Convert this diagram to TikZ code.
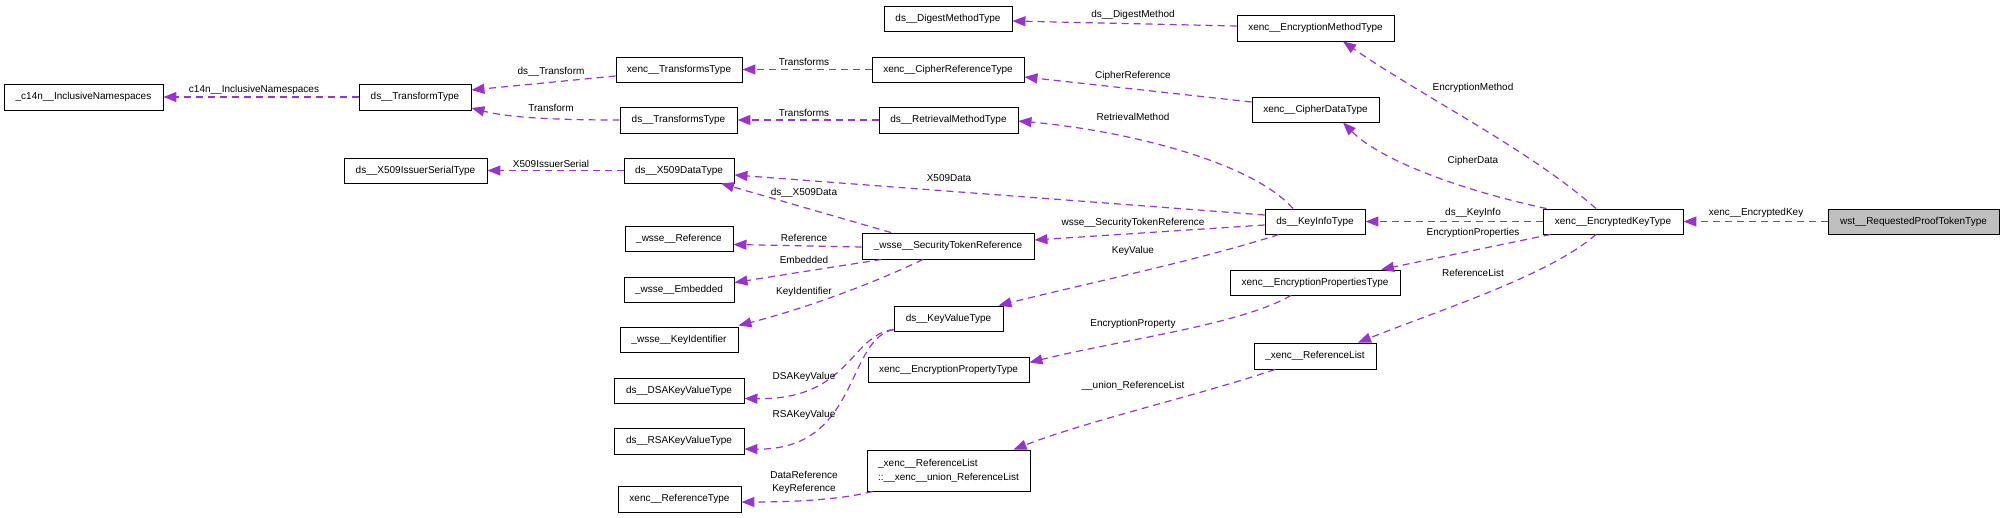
\documentclass[tikz,border=0pt]{standalone}
\usepackage{fontspec}
\setmainfont{Liberation Sans}
\usetikzlibrary{arrows.meta,calc}
\definecolor{deppurple}{HTML}{9A32CD}
\begin{document}
\begin{tikzpicture}[x=1pt,y=-1pt,
  cls/.style={draw=black, line width=0.9pt, fill=white, inner sep=0pt, minimum height=25pt, font=\fontsize{10}{12}\selectfont},
  lbl/.style={inner sep=0pt, font=\fontsize{10}{12}\selectfont},
  dep/.style={draw=deppurple, line width=1.2pt, dash pattern=on 7pt off 5pt, -{Triangle[length=13pt,width=10pt,fill=deppurple]}}
]
\useasboundingbox (0,0) rectangle (2004,517);
% nodes
\node[cls, minimum width=159pt, minimum height=26pt] (c14n) at (83.5,97) {\_c14n\_\_InclusiveNamespaces};
\node[cls, minimum width=112pt, minimum height=26pt] (tt) at (415,97) {ds\_\_TransformType};
\node[cls, minimum width=126pt] (xtst) at (679,69.5) {xenc\_\_TransformsType};
\node[cls, minimum width=117pt, minimum height=26pt] (dtst) at (678.5,120) {ds\_\_TransformsType};
\node[cls, minimum width=143pt] (x509is) at (415.5,170.5) {ds\_\_X509IssuerSerialType};
\node[cls, minimum width=110pt] (x509d) at (679,170.5) {ds\_\_X509DataType};
\node[cls, minimum width=108pt] (wref) at (679,238.5) {\_wsse\_\_Reference};
\node[cls, minimum width=110pt] (wemb) at (679,289.5) {\_wsse\_\_Embedded};
\node[cls, minimum width=118pt] (wki) at (679,339.5) {\_wsse\_\_KeyIdentifier};
\node[cls, minimum width=130pt] (dsa) at (679,390.5) {ds\_\_DSAKeyValueType};
\node[cls, minimum width=130pt, minimum height=26pt] (rsa) at (679,441) {ds\_\_RSAKeyValueType};
\node[cls, minimum width=123pt, minimum height=26pt] (reft) at (679.5,499) {xenc\_\_ReferenceType};
\node[cls, minimum width=128pt] (dmt) at (948,18.5) {ds\_\_DigestMethodType};
\node[cls, minimum width=152pt] (crt) at (948,69.5) {xenc\_\_CipherReferenceType};
\node[cls, minimum width=139pt, minimum height=26pt] (rmt) at (948.5,120) {ds\_\_RetrievalMethodType};
\node[cls, minimum width=172pt, minimum height=26pt] (str) at (948,246) {\_wsse\_\_SecurityTokenReference};
\node[cls, minimum width=109pt] (kvt) at (948.5,318.5) {ds\_\_KeyValueType};
\node[cls, minimum width=161pt] (eprop) at (948.5,369.5) {xenc\_\_EncryptionPropertyType};
\node[cls, minimum width=163pt, minimum height=41pt, align=left, font=\fontsize{10}{14}\selectfont] (union) at (948.5,470.5) {\_xenc\_\_ReferenceList\\::\_\_xenc\_\_union\_ReferenceList};
\node[cls, minimum width=157pt, minimum height=26pt] (emt) at (1315.5,28) {xenc\_\_EncryptionMethodType};
\node[cls, minimum width=127pt] (cdt) at (1315.5,109.5) {xenc\_\_CipherDataType};
\node[cls, minimum width=100pt] (kit) at (1315,221.5) {ds\_\_KeyInfoType};
\node[cls, minimum width=170pt] (epst) at (1315,282.5) {xenc\_\_EncryptionPropertiesType};
\node[cls, minimum width=122pt, minimum height=26pt] (rl) at (1315,356) {\_xenc\_\_ReferenceList};
\node[cls, minimum width=140pt] (ekt) at (1613,221.5) {xenc\_\_EncryptedKeyType};
\node[cls, minimum width=171pt, fill={rgb,255:red,191;green,191;blue,191}] (wst) at (1913.5,221.5) {wst\_\_RequestedProofTokenType};
% connectors
\draw[dep] (wst.west) -- (ekt.east);
\draw[dep] (ekt.west) -- (kit.east);
\draw[dep] ($(ekt.north)+(-17,0)$) .. controls (1530,150) and (1420,95) .. ($(emt.south)+(27.5,0)$);
\draw[dep] ($(ekt.north west)+(4,0)$) .. controls (1460,190) and (1380,160) .. ($(cdt.south)+(27.5,0)$);
\draw[dep] ($(ekt.south west)+(8,0)$) -- ($(epst.north)+(66,0)$);
\draw[dep] ($(ekt.south)+(-17,0)$) .. controls (1550,275) and (1440,310) .. ($(rl.north)+(43,0)$);
\draw[dep] ($(cdt.west)+(0,-7.5)$) -- ($(crt.east)+(0,7.5)$);
\draw[dep] (crt.west) -- (xtst.east);
\draw[dep] ($(xtst.west)+(0,6.5)$) -- ($(tt.east)+(0,-7)$);
\draw[dep] (dtst.west) .. controls (560,120) and (510,118) .. ($(tt.east)+(0,11)$);
\draw[dep] (tt.west) -- (c14n.east);
\draw[dep] (rmt.west) -- (dtst.east);
\draw[dep] ($(kit.north)+(-22,0)$) .. controls (1250,160) and (1120,130) .. ($(rmt.east)+(0,1)$);
\draw[dep] ($(kit.west)+(0,-6.5)$) -- ($(x509d.east)+(0,4.5)$);
\draw[dep] (x509d.west) -- (x509is.east);
\draw[dep] ($(kit.west)+(0,3.5)$) -- ($(str.east)+(0,-6)$);
\draw[dep] ($(str.north)+(-57,0)$) -- ($(x509d.south)+(42,0)$);
\draw[dep] ($(str.west)+(0,1)$) -- ($(wref.east)+(0,6)$);
\draw[dep] ($(str.south west)+(20,0)$) -- ($(wemb.east)+(0,-7)$);
\draw[dep] ($(str.south)+(-25,0)$) .. controls (870,285) and (800,310) .. ($(wki.east)+(0,-14)$);
\draw[dep] ($(kit.south)+(-36,0)$) .. controls (1200,260) and (1080,285) .. ($(kvt.north east)+(-5,0)$);
\draw[dep] ($(kvt.west)+(0,11)$) .. controls (850,335) and (850,400) .. ($(dsa.east)+(0,8)$);
\draw[dep] ($(kvt.west)+(0,11)$) .. controls (845,340) and (860,450) .. ($(rsa.east)+(0,8)$);
\draw[dep] ($(epst.south)+(-24,0)$) .. controls (1240,325) and (1120,340) .. ($(eprop.east)+(0,-7)$);
\draw[dep] ($(rl.south)+(-40,0)$) .. controls (1200,395) and (1090,420) .. ($(union.north)+(65,0)$);
\draw[dep] ($(union.south west)+(6,0)$) .. controls (840,500) and (790,502) .. ($(reft.east)+(0,3)$);
\draw[dep] ($(emt.west)+(0,-2)$) -- ($(dmt.east)+(0,2.5)$);
% labels
\node[lbl] (l1) at (1756,213) {xenc\_\_EncryptedKey};
\node[lbl] (l2) at (1473,213) {ds\_\_KeyInfo};
\node[lbl] (l3) at (1473,88) {EncryptionMethod};
\node[lbl] (l4) at (1473,161) {CipherData};
\node[lbl] (l5) at (1473,233) {EncryptionProperties};
\node[lbl] (l6) at (1473,273) {ReferenceList};
\node[lbl] (l7) at (1133,76) {CipherReference};
\node[lbl] (l8) at (804,62) {Transforms};
\node[lbl] (l9) at (551,72) {ds\_\_Transform};
\node[lbl] (l10) at (551,108) {Transform};
\node[lbl] (l11) at (254,90) {c14n\_\_InclusiveNamespaces};
\node[lbl] (l12) at (804,113) {Transforms};
\node[lbl] (l13) at (1133,117) {RetrievalMethod};
\node[lbl] (l14) at (949,178) {X509Data};
\node[lbl] (l15) at (551,164) {X509IssuerSerial};
\node[lbl] (l16) at (1133,223) {wsse\_\_SecurityTokenReference};
\node[lbl] (l17) at (804,193) {ds\_\_X509Data};
\node[lbl] (l18) at (804,238) {Reference};
\node[lbl] (l19) at (804,260) {Embedded};
\node[lbl] (l20) at (804,292) {KeyIdentifier};
\node[lbl] (l21) at (1133,251) {KeyValue};
\node[lbl] (l22) at (804,377) {DSAKeyValue};
\node[lbl] (l23) at (804,415) {RSAKeyValue};
\node[lbl] (l24) at (1133,324) {EncryptionProperty};
\node[lbl] (l25) at (1133,386) {\_\_union\_ReferenceList};
\node[lbl, align=center, font=\fontsize{10}{13}\selectfont] (l26) at (804,482.5) {DataReference\\KeyReference};
\node[lbl] (l27) at (1133,15) {ds\_\_DigestMethod};
\end{tikzpicture}
\end{document}
